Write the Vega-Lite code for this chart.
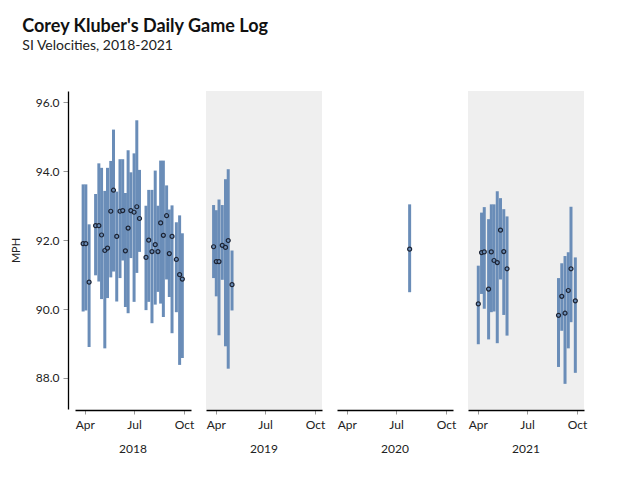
{
  "$schema": "https://vega.github.io/schema/vega-lite/v6.json",
  "padding": {"left": 10, "top": 18, "right": 5, "bottom": 5},
  "title": {
    "text": "Corey Kluber's Daily Game Log",
    "subtitle": "SI Velocities, 2018-2021",
    "anchor": "start",
    "frame": "bounds",
    "dx": 12,
    "font": "Lato",
    "fontSize": 18,
    "fontWeight": "bold",
    "color": "#111111",
    "subtitleFont": "Lato",
    "subtitleFontSize": 14,
    "subtitleColor": "#222222",
    "subtitlePadding": 3,
    "offset": 38
  },
  "data": {
    "values": [
      {"year": "2018", "date": "2018-03-29", "lo": 89.93, "hi": 93.62, "mean": 91.90},
      {"year": "2018", "date": "2018-04-03", "lo": 89.96, "hi": 93.62, "mean": 91.90},
      {"year": "2018", "date": "2018-04-09", "lo": 88.90, "hi": 92.46, "mean": 90.78},
      {"year": "2018", "date": "2018-04-21", "lo": 90.98, "hi": 93.34, "mean": 92.42},
      {"year": "2018", "date": "2018-04-27", "lo": 90.80, "hi": 94.23, "mean": 92.42},
      {"year": "2018", "date": "2018-05-02", "lo": 90.29, "hi": 94.10, "mean": 92.15},
      {"year": "2018", "date": "2018-05-08", "lo": 88.86, "hi": 93.43, "mean": 91.70},
      {"year": "2018", "date": "2018-05-13", "lo": 90.32, "hi": 94.10, "mean": 91.77},
      {"year": "2018", "date": "2018-05-19", "lo": 90.92, "hi": 94.30, "mean": 92.84},
      {"year": "2018", "date": "2018-05-24", "lo": 91.09, "hi": 95.21, "mean": 93.45},
      {"year": "2018", "date": "2018-05-30", "lo": 90.22, "hi": 93.41, "mean": 92.11},
      {"year": "2018", "date": "2018-06-05", "lo": 90.90, "hi": 94.35, "mean": 92.84},
      {"year": "2018", "date": "2018-06-10", "lo": 91.41, "hi": 94.35, "mean": 92.86},
      {"year": "2018", "date": "2018-06-15", "lo": 90.06, "hi": 93.37, "mean": 91.69},
      {"year": "2018", "date": "2018-06-20", "lo": 89.88, "hi": 94.61, "mean": 92.35},
      {"year": "2018", "date": "2018-06-25", "lo": 91.48, "hi": 93.97, "mean": 92.86},
      {"year": "2018", "date": "2018-07-01", "lo": 90.21, "hi": 94.52, "mean": 92.81},
      {"year": "2018", "date": "2018-07-06", "lo": 91.05, "hi": 95.48, "mean": 92.97},
      {"year": "2018", "date": "2018-07-11", "lo": 91.66, "hi": 94.04, "mean": 92.63},
      {"year": "2018", "date": "2018-07-23", "lo": 89.97, "hi": 93.00, "mean": 91.50},
      {"year": "2018", "date": "2018-07-28", "lo": 90.21, "hi": 93.46, "mean": 92.00},
      {"year": "2018", "date": "2018-08-03", "lo": 89.59, "hi": 93.46, "mean": 91.67},
      {"year": "2018", "date": "2018-08-09", "lo": 90.13, "hi": 94.02, "mean": 91.87},
      {"year": "2018", "date": "2018-08-14", "lo": 90.50, "hi": 93.00, "mean": 91.67},
      {"year": "2018", "date": "2018-08-19", "lo": 90.16, "hi": 94.31, "mean": 92.50},
      {"year": "2018", "date": "2018-08-24", "lo": 89.77, "hi": 94.31, "mean": 92.14},
      {"year": "2018", "date": "2018-08-30", "lo": 90.86, "hi": 93.59, "mean": 92.71},
      {"year": "2018", "date": "2018-09-04", "lo": 90.35, "hi": 92.89, "mean": 91.61},
      {"year": "2018", "date": "2018-09-09", "lo": 89.30, "hi": 93.01, "mean": 92.11},
      {"year": "2018", "date": "2018-09-17", "lo": 89.91, "hi": 92.52, "mean": 91.44},
      {"year": "2018", "date": "2018-09-23", "lo": 88.38, "hi": 92.72, "mean": 91.00},
      {"year": "2018", "date": "2018-09-28", "lo": 88.58, "hi": 92.20, "mean": 90.87},
      {"year": "2019", "date": "2019-03-28", "lo": 90.90, "hi": 93.02, "mean": 91.81},
      {"year": "2019", "date": "2019-04-02", "lo": 90.37, "hi": 92.87, "mean": 91.38},
      {"year": "2019", "date": "2019-04-07", "lo": 89.24, "hi": 93.18, "mean": 91.38},
      {"year": "2019", "date": "2019-04-13", "lo": 90.85, "hi": 93.02, "mean": 91.85},
      {"year": "2019", "date": "2019-04-19", "lo": 88.92, "hi": 93.77, "mean": 91.79},
      {"year": "2019", "date": "2019-04-24", "lo": 88.27, "hi": 94.06, "mean": 91.99},
      {"year": "2019", "date": "2019-05-01", "lo": 89.96, "hi": 91.70, "mean": 90.71},
      {"year": "2020", "date": "2020-07-26", "lo": 90.49, "hi": 93.04, "mean": 91.74},
      {"year": "2021", "date": "2021-04-02", "lo": 88.98, "hi": 91.26, "mean": 90.15},
      {"year": "2021", "date": "2021-04-08", "lo": 90.44, "hi": 92.80, "mean": 91.64},
      {"year": "2021", "date": "2021-04-13", "lo": 90.01, "hi": 92.96, "mean": 91.66},
      {"year": "2021", "date": "2021-04-21", "lo": 89.12, "hi": 92.61, "mean": 90.58},
      {"year": "2021", "date": "2021-04-26", "lo": 89.91, "hi": 93.04, "mean": 91.66},
      {"year": "2021", "date": "2021-05-01", "lo": 89.93, "hi": 93.04, "mean": 91.41},
      {"year": "2021", "date": "2021-05-07", "lo": 89.01, "hi": 93.42, "mean": 91.35},
      {"year": "2021", "date": "2021-05-13", "lo": 90.86, "hi": 93.22, "mean": 92.29},
      {"year": "2021", "date": "2021-05-19", "lo": 89.83, "hi": 92.90, "mean": 91.67},
      {"year": "2021", "date": "2021-05-25", "lo": 89.23, "hi": 92.69, "mean": 91.17},
      {"year": "2021", "date": "2021-08-28", "lo": 88.32, "hi": 90.90, "mean": 89.82},
      {"year": "2021", "date": "2021-09-03", "lo": 89.37, "hi": 91.33, "mean": 90.37},
      {"year": "2021", "date": "2021-09-09", "lo": 87.83, "hi": 91.54, "mean": 89.88},
      {"year": "2021", "date": "2021-09-15", "lo": 88.86, "hi": 91.65, "mean": 90.54},
      {"year": "2021", "date": "2021-09-20", "lo": 89.62, "hi": 92.97, "mean": 91.17},
      {"year": "2021", "date": "2021-09-28", "lo": 88.15, "hi": 91.50, "mean": 90.24}
    ]
  },
  "facet": {
    "column": {
      "field": "year",
      "type": "ordinal",
      "header": {
        "title": null,
        "labelOrient": "bottom",
        "labelFont": "Lato",
        "labelFontSize": 12,
        "labelColor": "#222222",
        "labelPadding": 14
      }
    }
  },
  "spacing": 15,
  "spec": {
    "width": 116,
    "height": 318,
    "layer": [
      {
        "transform": [{"filter": "datum.year == '2019' || datum.year == '2021'"}],
        "mark": {"type": "rect", "color": "#efefef"},
        "encoding": {
          "x": {"value": 0},
          "x2": {"value": "width"},
          "y": {"value": 0},
          "y2": {"value": "height"}
        }
      },
      {
        "mark": {"type": "rule", "color": "#6a8db8", "strokeWidth": 3},
        "encoding": {
          "x": {
            "field": "date",
            "timeUnit": "monthdate",
            "type": "temporal",
            "scale": {"domain": [{"month": 3, "date": 14}, {"month": 10, "date": 14}]},
            "axis": {
              "title": null,
              "values": [{"month": 4, "date": 1}, {"month": 7, "date": 1}, {"month": 10, "date": 1}],
              "format": "%b",
              "formatType": "time",
              "offset": 1,
              "tickSize": 4,
              "labelPadding": 5,
              "labelFlush": false
            }
          },
          "y": {
            "field": "lo",
            "type": "quantitative",
            "scale": {"domain": [87.1, 96.33], "nice": false, "zero": false},
            "axis": {
              "title": "MPH",
              "values": [88, 90, 92, 94, 96],
              "format": ".1f",
              "offset": 7,
              "tickSize": 5,
              "labelPadding": 4,
              "titlePadding": 14
            }
          },
          "y2": {"field": "hi"}
        }
      },
      {
        "mark": {"type": "point", "filled": true, "fill": "#6a8db8", "stroke": "#1c2333", "strokeWidth": 1.2, "size": 16, "opacity": 1},
        "encoding": {
          "x": {"field": "date", "timeUnit": "monthdate", "type": "temporal"},
          "y": {"field": "mean", "type": "quantitative"}
        }
      }
    ]
  },
  "config": {
    "font": "Lato",
    "view": {"stroke": null},
    "axis": {
      "grid": false,
      "labelFont": "Lato",
      "labelFontSize": 12,
      "labelColor": "#222222",
      "tickColor": "#999999",
      "domainColor": "#000000",
      "domainWidth": 1.3,
      "titleFont": "Lato",
      "titleFontSize": 11,
      "titleFontWeight": "normal",
      "titleColor": "#222222"
    }
  }
}
